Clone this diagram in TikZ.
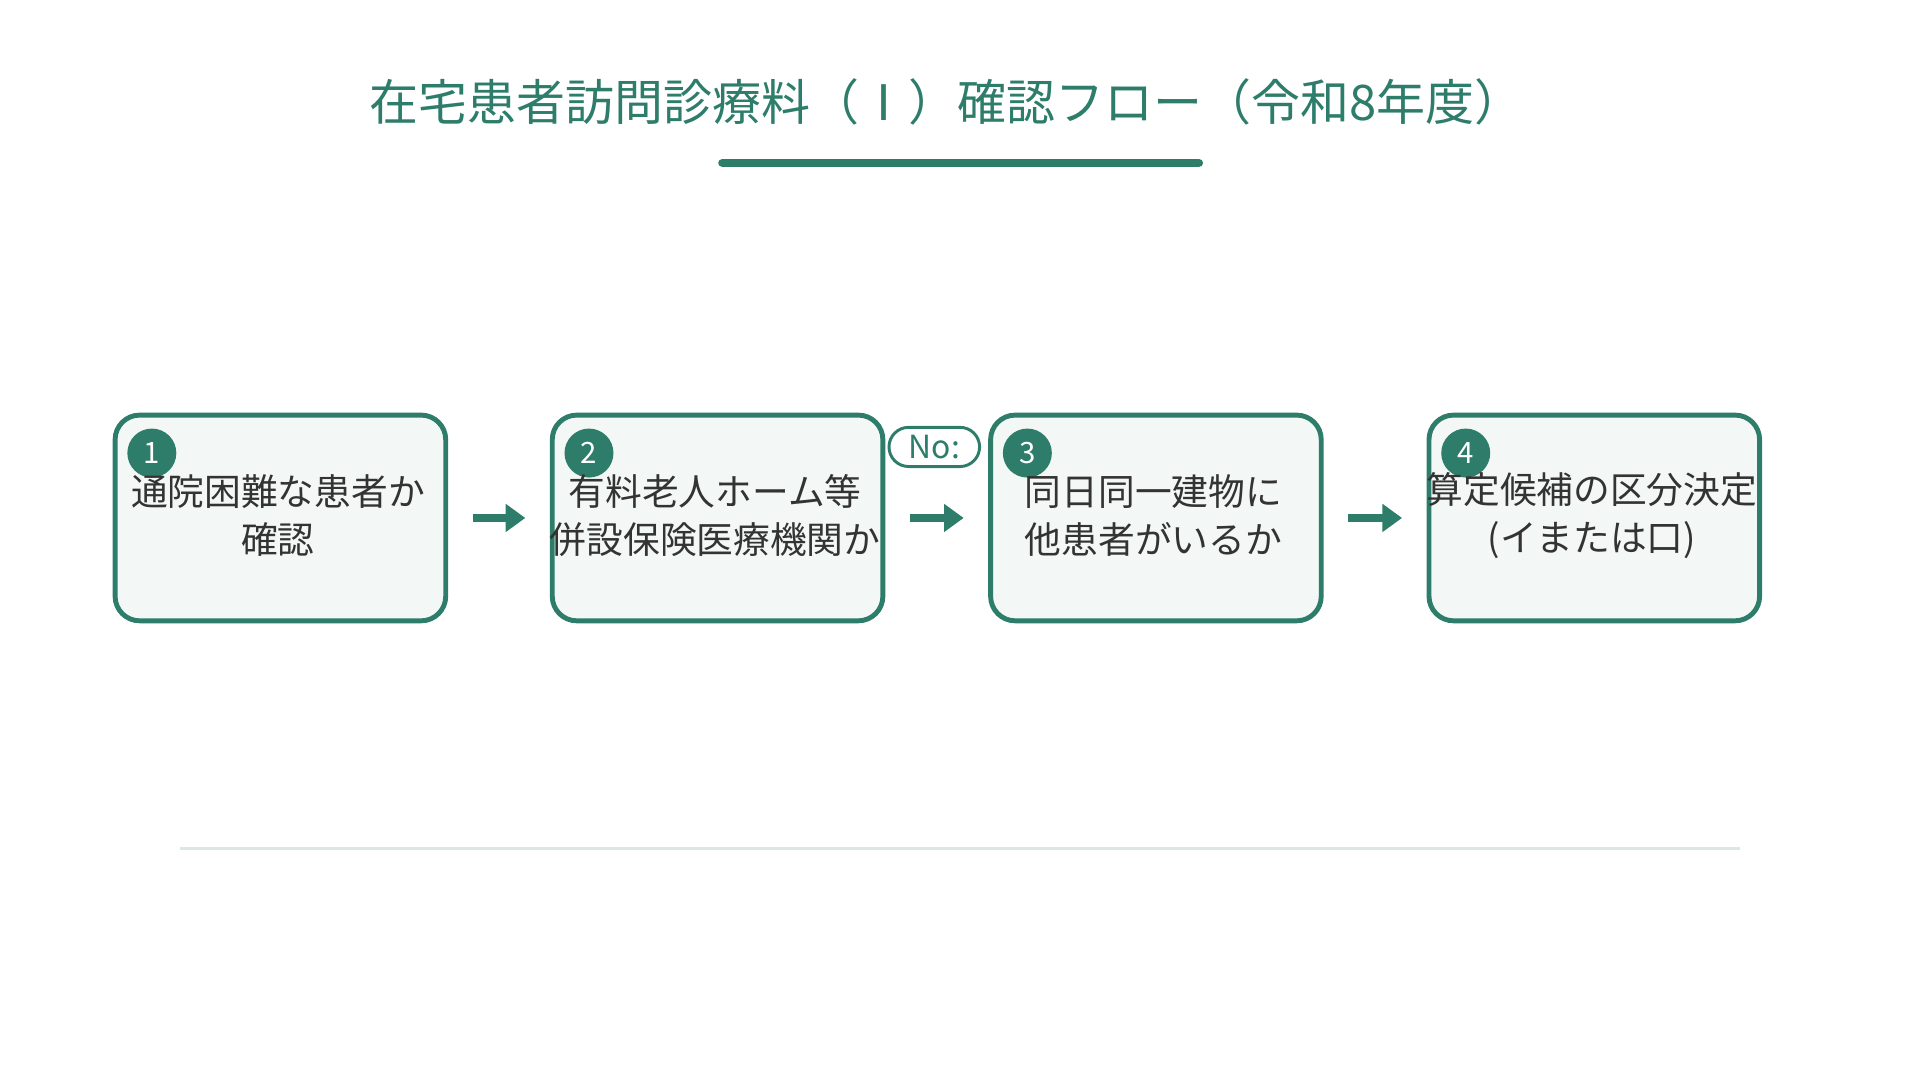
\documentclass[tikz,border=0pt]{standalone}
\usepackage{fontspec}
\setmainfont{Noto Sans CJK JP}
\usetikzlibrary{arrows.meta}
\definecolor{gr}{HTML}{2E7D6B}
\definecolor{lf}{HTML}{F3F8F6}
\definecolor{ln}{HTML}{DCE7E4}
\definecolor{tx}{HTML}{333333}
\begin{document}
\begin{tikzpicture}[x=0.5pt,y=-0.5pt,
 box/.style={draw=gr,line width=2pt,fill=lf,rounded corners=10pt,minimum width=135pt,minimum height=84pt,anchor=north west},
 num/.style={circle,fill=gr,minimum size=20pt,inner sep=0pt,text=white,font=\fontsize{12}{12}\selectfont},
 lbl/.style={text=tx,font=\fontsize{15}{19.5}\selectfont,align=center},
 arr/.style={draw=gr,line width=3pt,-{Triangle[length=8pt,width=11pt]}}]
\useasboundingbox (0,0) rectangle (1568,882);
\node[text=gr,font=\fontsize{20}{24}\selectfont] (title) at (773,83) {在宅患者訪問診療料（Ⅰ）確認フロー（令和8年度）};
\coordinate (u1) at (590,133); \coordinate (u2) at (979,133);
\draw[gr,line width=3.5pt,line cap=round] (u1) -- (u2);
\coordinate (g1) at (147,693); \coordinate (g2) at (1421,693);
\draw[ln,line width=1pt] (g1) -- (g2);
\foreach \i/\x in {1/92,2/449,3/807,4/1165}{
 \node[box] (b\i) at (\x,337) {};
 \node[num] (n\i) at (\x+32,370) {\i};
}
\node[lbl] (t1) at (227,421) {通院困難な患者か\\確認};
\node[lbl] (t2) at (584,421) {有料老人ホーム等\\併設保険医療機関か};
\node[lbl] (t3) at (942,421) {同日同一建物に\\他患者がいるか};
\node[lbl] (t4) at (1300,421) {算定候補の区分決定\\(イまたは口)};
\draw[arr] ([xshift=10pt]b1.east) -- ([xshift=-10pt]b2.west);
\draw[arr] ([xshift=10pt]b2.east) -- ([xshift=-10pt]b3.west);
\draw[arr] ([xshift=10pt]b3.east) -- ([xshift=-10pt]b4.west);
\node[draw=gr,line width=1.2pt,fill=white,rounded corners=8pt,minimum width=37pt,minimum height=16pt,inner sep=1pt,text=gr,font=\fontsize{13}{13}\selectfont] (no) at (763,365) {No:};
\end{tikzpicture}
\end{document}
